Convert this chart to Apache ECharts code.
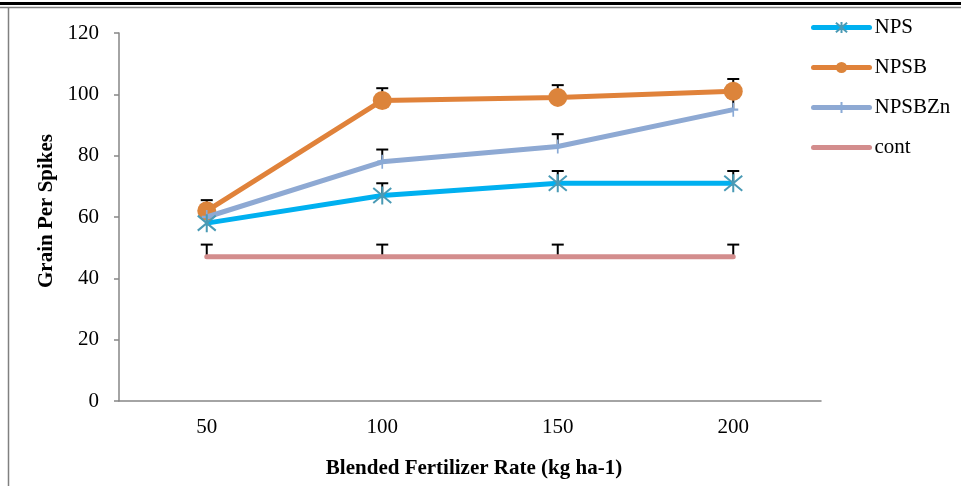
<!DOCTYPE html>
<html>
<head>
<meta charset="utf-8">
<script src="https://cdn.jsdelivr.net/npm/echarts@6/dist/echarts.min.js"></script>
<style>
html,body{margin:0;padding:0;background:#fff;}
#chart{width:961px;height:486px;}
</style>
</head>
<body>
<div id="chart"></div>
<script>
var categories = ['50', '100', '150', '200'];
var yTicks = [0, 20, 40, 60, 80, 100, 120];
var seriesNames = ['NPS', 'NPSB', 'NPSBZn', 'cont'];
var npsValues = [58, 67, 71, 71];
var npsbValues = [62, 98, 99, 101];
var npsbznValues = [60, 78, 83, 95];
var contValues = [47, 47, 47, 47];
var npsErr = [4, 4, 4, 4];
var npsbErr = [3.5, 4, 4, 4];
var npsbznErr = [4, 4, 4, 4];
var contErr = [4, 4, 4, 4];

var FONT = '"Liberation Serif", "Times New Roman", serif';
var chart = echarts.init(document.getElementById('chart'), null, {renderer: 'canvas'});

function errData(vals, errs) {
  return vals.map(function (v, i) { return [i, v, errs[i]]; });
}
function errSeries(vals, errs) {
  return {
    type: 'custom',
    z: 1,
    silent: true,
    data: errData(vals, errs),
    encode: {x: 0, y: 1},
    renderItem: function (params, api) {
      var i = api.value(0), v = api.value(1), e = api.value(2);
      var p0 = api.coord([i, v]);
      var p1 = api.coord([i, v + e]);
      var style = {stroke: '#000', lineWidth: 2};
      return {
        type: 'group',
        children: [
          {type: 'line', shape: {x1: p0[0], y1: p0[1], x2: p1[0], y2: p1[1]}, style: style},
          {type: 'line', shape: {x1: p1[0] - 6, y1: p1[1], x2: p1[0] + 6, y2: p1[1]}, style: style}
        ]
      };
    }
  };
}

var asterisk = 'path://M0,0L10,10M10,0L0,10M5,-1L5,11';
var plus = 'path://M5,0L5,10M2,5L8,5';

var legendData = seriesNames.map(function (n) {
  if (n === 'cont') {
    return {name: n, itemStyle: {color: 'rgba(0,0,0,0)', borderWidth: 0, opacity: 0}};
  }
  return {name: n};
});

var option = {
  animation: false,
  backgroundColor: '#fff',
  graphic: [
    {type: 'rect', shape: {x: 0, y: 2, width: 961, height: 3}, style: {fill: '#000'}, z: 100},
    {type: 'line', shape: {x1: 0, y1: 7.5, x2: 961, y2: 7.5}, style: {stroke: '#808080', lineWidth: 1.5}, z: 100},
    {type: 'line', shape: {x1: 8.5, y1: 7, x2: 8.5, y2: 486}, style: {stroke: '#808080', lineWidth: 1.5}, z: 100}
  ],
  grid: {left: 119, right: 140, top: 33, bottom: 85, containLabel: false},
  legend: {
    data: legendData,
    orient: 'vertical',
    left: 811,
    top: 17,
    padding: 0,
    itemWidth: 56,
    itemHeight: 14,
    itemGap: 19,
    lineStyle: {width: 5, cap: 'round'},
    textStyle: {fontFamily: FONT, fontSize: 21, color: '#000'}
  },
  xAxis: {
    type: 'category',
    data: categories,
    boundaryGap: true,
    name: 'Blended Fertilizer Rate (kg ha-1)',
    nameLocation: 'middle',
    nameGap: 57,
    nameTextStyle: {fontFamily: FONT, fontSize: 21, fontWeight: 'bold', color: '#000', padding: [0, 0, 0, 8]},
    axisLine: {lineStyle: {color: '#868686', width: 1.5}},
    axisTick: {show: false},
    axisLabel: {fontFamily: FONT, fontSize: 21, color: '#000', margin: 16},
    splitLine: {show: false}
  },
  yAxis: {
    type: 'value',
    min: yTicks[0],
    max: yTicks[yTicks.length - 1],
    interval: yTicks[1] - yTicks[0],
    name: 'Grain Per Spikes',
    nameLocation: 'middle',
    nameGap: 62,
    nameTextStyle: {fontFamily: FONT, fontSize: 21, fontWeight: 'bold', color: '#000', padding: [0, 0, 0, 12]},
    axisLine: {show: true, lineStyle: {color: '#868686', width: 1.5}},
    axisTick: {show: true, length: 5, inside: false, lineStyle: {color: '#868686', width: 1.5}},
    axisLabel: {fontFamily: FONT, fontSize: 21, color: '#000', margin: 20},
    splitLine: {show: false}
  },
  series: [
    errSeries(npsValues, npsErr),
    errSeries(npsbValues, npsbErr),
    errSeries(npsbznValues, npsbznErr),
    errSeries(contValues, contErr),
    {
      name: 'cont', type: 'line', z: 2, data: contValues,
      symbol: 'none', showSymbol: false,
      lineStyle: {color: '#D38D8D', width: 5, cap: 'round'},
      itemStyle: {color: '#D38D8D'}
    },
    {
      name: 'NPSB', type: 'line', z: 3, data: npsbValues,
      symbol: 'circle', symbolSize: 19,
      lineStyle: {color: '#E0823A', width: 5},
      itemStyle: {color: '#DC843B', borderWidth: 0}
    },
    {
      name: 'NPSBZn', type: 'line', z: 4, data: npsbznValues,
      symbol: plus, symbolSize: [10, 14], symbolKeepAspect: false,
      lineStyle: {color: '#8EA9D3', width: 5},
      itemStyle: {color: 'rgba(0,0,0,0)', borderColor: '#8AAAD6', borderWidth: 2}
    },
    {
      name: 'NPS', type: 'line', z: 5, data: npsValues,
      symbol: asterisk, symbolSize: 18,
      lineStyle: {color: '#00B0F0', width: 5},
      itemStyle: {color: 'rgba(0,0,0,0)', borderColor: '#4A9AB5', borderWidth: 2}
    }
  ]
};
chart.setOption(option);
</script>
</body>
</html>
